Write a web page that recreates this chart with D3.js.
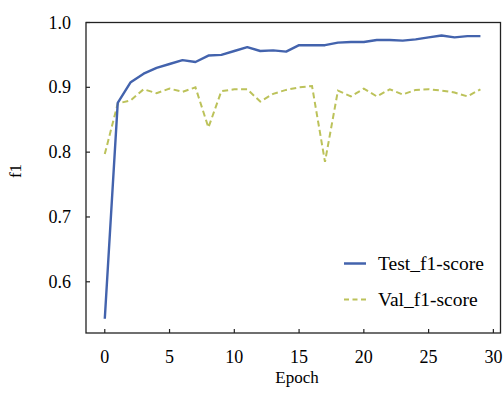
<!DOCTYPE html>
<html>
<head>
<meta charset="utf-8">
<script src="https://cdn.jsdelivr.net/npm/d3@7"></script>
<style>
  body { margin: 0; background: #fff; }
</style>
</head>
<body>
<div id="chart"></div>
<script>
// Data
var epochs = d3.range(0, 30);
var testF1 = [0.543, 0.876, 0.908, 0.921, 0.930, 0.936, 0.942, 0.939, 0.949, 0.950,
              0.956, 0.962, 0.956, 0.957, 0.955, 0.965, 0.965, 0.965, 0.969, 0.970,
              0.970, 0.973, 0.973, 0.972, 0.974, 0.977, 0.980, 0.977, 0.979, 0.979];
var valF1 = [0.797, 0.875, 0.880, 0.897, 0.891, 0.898, 0.893, 0.900, 0.838, 0.894,
             0.897, 0.897, 0.878, 0.890, 0.896, 0.900, 0.902, 0.785, 0.895, 0.886,
             0.898, 0.886, 0.897, 0.889, 0.896, 0.897, 0.895, 0.892, 0.886, 0.897];
var xTicks = [0, 5, 10, 15, 20, 25, 30];
var yTicks = [0.6, 0.7, 0.8, 0.9, 1.0];
var seriesNames = ["Test_f1-score", "Val_f1-score"];

var serif = "Liberation Serif";

// Set the dimensions and margins of the graph
var margin = {top: 22.5, right: 3.5, bottom: 62, left: 86},
    width = 504 - margin.left - margin.right,
    height = 395 - margin.top - margin.bottom;

var root = d3.select("#chart")
  .append("svg")
    .attr("width", 504)
    .attr("height", 395);

var x = d3.scaleLinear()
    .domain([-1.45, 30.55])
    .range([margin.left, margin.left + width]);

var y = d3.scaleLinear()
    .domain([0.521, 1.0])
    .range([margin.top + height, margin.top]);

// helper for text
function label(txt, px, py, size, anchor) {
  return root.append("text")
    .attr("x", px)
    .attr("y", py)
    .attr("text-anchor", anchor || "start")
    .attr("font-family", serif)
    .attr("font-size", size)
    .attr("fill", "#000")
    .text(txt);
}

// Inward ticks
root.selectAll("line.xt")
  .data(xTicks).enter().append("line")
    .attr("class", "xt")
    .attr("x1", d => x(d)).attr("x2", d => x(d))
    .attr("y1", margin.top + height).attr("y2", margin.top + height - 4)
    .attr("stroke", "#222").attr("stroke-width", 1.2);
root.selectAll("line.yt")
  .data(yTicks).enter().append("line")
    .attr("class", "yt")
    .attr("x1", margin.left).attr("x2", margin.left + 4)
    .attr("y1", d => y(d)).attr("y2", d => y(d))
    .attr("stroke", "#222").attr("stroke-width", 1.2);

xTicks.forEach(function(d) {
  label(d3.format("d")(d), x(d), margin.top + height + 30, 18, "middle");
});
yTicks.forEach(function(d) {
  label(d3.format(".1f")(d), margin.left - 15, y(d) + 6, 18, "end");
});

// Frame
root.append("rect")
    .attr("x", margin.left)
    .attr("y", margin.top)
    .attr("width", width)
    .attr("height", height)
    .attr("fill", "none")
    .attr("stroke", "#222")
    .attr("stroke-width", 1.3);

// Axis labels
label("Epoch", 297, 383, 17, "middle");
label("f1", 0, 0, 17, "middle")
    .attr("transform", "translate(21,171) rotate(-90)");

// Lines
var line = function(values) {
  return d3.line()
    .x(function(d, i) { return x(epochs[i]); })
    .y(function(d) { return y(d); })(values);
};

root.append("path")
    .attr("d", line(valF1))
    .attr("fill", "none")
    .attr("stroke", "#bcc25a")
    .attr("stroke-width", 2)
    .attr("stroke-dasharray", "6,3.5");

root.append("path")
    .attr("d", line(testF1))
    .attr("fill", "none")
    .attr("stroke", "#4363ad")
    .attr("stroke-width", 2.4)
    .attr("stroke-linejoin", "round");

// Legend
var lx = 344, ly = 263.5;
root.append("line")
    .attr("x1", lx).attr("x2", lx + 22).attr("y1", ly).attr("y2", ly)
    .attr("stroke", "#4363ad").attr("stroke-width", 2.5);
root.append("line")
    .attr("x1", lx).attr("x2", lx + 22).attr("y1", ly + 36).attr("y2", ly + 36)
    .attr("stroke", "#bcc25a").attr("stroke-width", 2.2)
    .attr("stroke-dasharray", "5,3.5");

seriesNames.forEach(function(d, i) {
  label(d, lx + 34, ly + i * 36 + 6.5, 19.5, "start");
});
</script>
</body>
</html>
